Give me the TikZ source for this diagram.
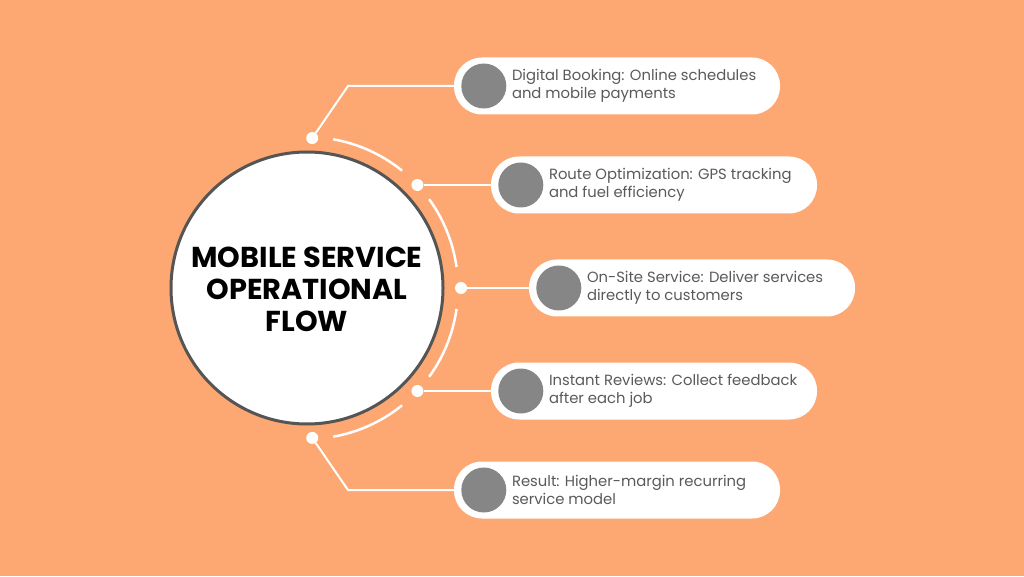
\documentclass[tikz,border=0pt]{standalone}
\usepackage{fontspec}
\setmainfont{Poppins}
\usepackage{tikz}
\usetikzlibrary{positioning, calc}

\definecolor{bgorange}{HTML}{FDA872}
\definecolor{rimgray}{HTML}{555555}
\definecolor{txtgray}{HTML}{5A5A5A}
\definecolor{bulletgray}{HTML}{868686}

\tikzset{
  hub/.style={circle, draw=rimgray, line width=3pt, fill=white, minimum size=272pt, inner sep=0pt},
  pill/.style={rectangle, rounded corners=28pt, fill=white, minimum width=326pt, minimum height=57pt},
  bullet/.style={circle, fill=bulletgray, minimum size=45pt, inner sep=0pt},
  pilltext/.style={text=txtgray, align=left, anchor=west, font=\fontsize{14.8}{18}\selectfont, inner sep=0pt},
  joint/.style={circle, fill=white, minimum size=12pt, inner sep=0pt},
  wire/.style={white, line width=2pt},
  ring/.style={white, line width=2.5pt}
}

\begin{document}
\begin{tikzpicture}[x=1pt, y=1pt]
\fill[bgorange] (0,0) rectangle (1024,576);
\useasboundingbox (0,0) rectangle (1024,576);

% Hub
\node[hub] (hub) at (307,288) {};
\node[font=\bfseries\fontsize{28.8}{32}\selectfont, align=center] (title) at (307,287) {MOBILE SERVICE\\OPERATIONAL\\FLOW};

% Outer ring segments
\foreach \a/\b in {80/51, 36/8, -8/-36, -51/-80}
  \draw[ring] ($(hub.center)+(\a:151)$) arc[start angle=\a, end angle=\b, radius=151];

% Joints on the ring
\node[joint] (j1) at ($(hub.center)+(88:150)$) {};
\node[joint] (j2) at ($(hub.center)+(43:151)$) {};
\node[joint] (j3) at ($(hub.center)+(0:154)$) {};
\node[joint] (j4) at ($(hub.center)+(-43:151)$) {};
\node[joint] (j5) at ($(hub.center)+(-88:150)$) {};

% Step pills
\node[pill] (booking) at (617,490) {};
\node[pill] (route) at (654,391) {};
\node[pill] (onsite) at (692,288) {};
\node[pill] (reviews) at (654,185) {};
\node[pill] (result) at (617,86) {};

\foreach \p/\t in {booking/{Digital Booking: Online schedules\\and mobile payments},
                   route/{Route Optimization: GPS tracking\\and fuel efficiency},
                   onsite/{On-Site Service: Deliver services\\directly to customers},
                   reviews/{Instant Reviews: Collect feedback\\after each job},
                   result/{Result: Higher-margin recurring\\service model}} {
  \node[bullet] (\p-dot) at ($(\p.west)+(30,0)$) {};
  \node[pilltext] (\p-txt) at ($(\p.west)+(58,0)$) {\t};
}

% Connectors
\coordinate (k1) at (348,490);
\coordinate (k5) at (348,86);
\draw[wire] (j1) -- (k1) -- (booking.west);
\draw[wire] (j2) -- (j2 -| route.west);
\draw[wire] (j3) -- (onsite.west);
\draw[wire] (j4) -- (j4 -| reviews.west);
\draw[wire] (j5) -- (k5) -- (result.west);
\end{tikzpicture}
\end{document}
